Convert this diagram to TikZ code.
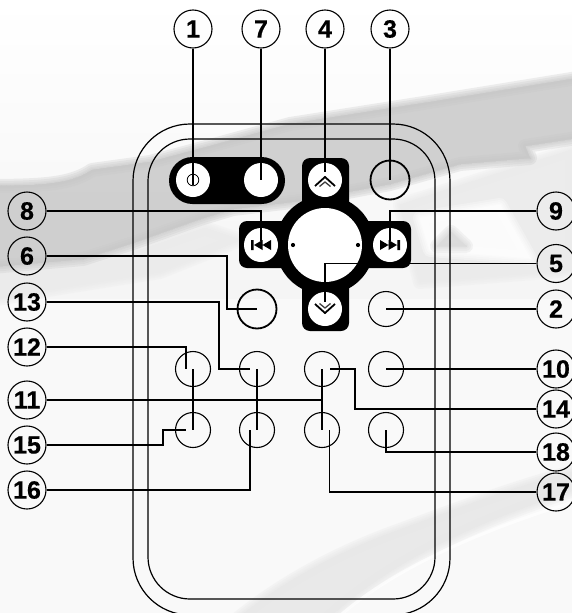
\documentclass[tikz,border=0pt]{standalone}
\usepackage{fontspec}
\setmainfont{Liberation Sans}[BoldFeatures={FakeBold=0.5}]
\newcommand\softshape[2]{\foreach \w in {14,10,6,3,0}{\path[fill=#1,draw=#1,line width=\w pt,opacity=.3,line join=round] #2;}}
\tikzset{
  lab/.style={circle,draw=black,line width=1.1pt,minimum size=38pt,inner sep=0pt,font=\fontsize{25}{25}\bfseries\selectfont},
  whitebtn/.style={circle,fill=white,minimum size=34pt,inner sep=0pt},
  thickbtn/.style={circle,draw=black,line width=1.8pt,minimum size=39pt,inner sep=0pt},
  thinbtn/.style={circle,draw=black,line width=1.1pt,minimum size=35pt,inner sep=0pt},
  lead/.style={draw=black,line width=1.1pt},
  shell/.style={draw=black,line width=1.2pt},
  glyph/.style={fill=black}
}
\begin{document}
\begin{tikzpicture}[x=1pt,y=-1pt]
\useasboundingbox (0,0) rectangle (572,613);
\clip (0,0) rectangle (572,613);
% background
\shade[top color=white,bottom color=white!96!black,middle color=white!98!black] (0,0) rectangle (572,300);
\fill[white!97.5!black] (0,299) rectangle (572,613);
\softshape{black!8}{(-20,275) -- (80,268) -- (135,252) -- (205,228) -- (240,240) -- (160,272) -- (60,288) -- (-20,302) -- cycle}
\softshape{black!8}{(400,205) -- (572,150) -- (572,270) -- (420,282) -- cycle}
\softshape{white}{(420,218) -- (500,205) -- (530,258) -- (430,250) -- cycle}
\softshape{black!14}{(437,246) -- (451,232) -- (466,246) -- cycle}
\softshape{black!21}{(-20,186) .. controls (40,186) and (70,185) .. (92,170) -- (150,162) -- (210,146) -- (290,124) -- (430,102) -- (590,76) -- (590,136) -- (525,146) -- (530,158) -- (460,164) -- (390,184) -- (300,201) -- (233,209) -- (200,219) -- (133,243) -- (83,259) -- (-20,268) -- cycle}
\softshape{black!9}{(236,620) .. controls (275,588) and (330,555) .. (400,530) .. controls (460,508) and (520,485) .. (580,470) -- (580,488) .. controls (480,520) and (390,560) .. (326,620) -- cycle}
\draw[white,line width=3pt,opacity=.7] (335,620) .. controls (390,570) and (480,530) .. (580,500);
% remote shell
\draw[shell,rounded corners=57pt] (133,124) rectangle (450,615);
\draw[shell,rounded corners=42pt] (148,139) rectangle (435,599);
% black key plates
\fill[black,rounded corners=23.5pt] (169,157) rectangle (285,204);
\fill[black,rounded corners=8pt] (302,158) rectangle (349,331);
\fill[black,rounded corners=8pt] (239,221) rectangle (411,268);
\fill[black] (325,245) circle (49.5);
% buttons
\node[whitebtn] (b1) at (193,180) {};
\node[whitebtn] (b7) at (261,180) {};
\node[whitebtn] (b4) at (325,180) {};
\node[whitebtn] (b8) at (261,245) {};
\node[whitebtn] (b9) at (390,245) {};
\node[whitebtn] (b17) at (325,309) {};
\node[circle,fill=white,minimum size=74pt,inner sep=0pt] (wheel) at (325,245) {};
\fill[black] (293,245) circle (2.1) (358,245) circle (2.1);
\node[thickbtn] (b3) at (390,180) {};
\node[thickbtn] (b6) at (257,309) {};
\node[thinbtn] (b2) at (386,309) {};
\node[thinbtn] (c12) at (193,369) {};
\node[thinbtn] (c13) at (257,369) {};
\node[thinbtn] (c14) at (322,369) {};
\node[thinbtn] (c10) at (386,369) {};
\node[thinbtn] (c15) at (193,430) {};
\node[thinbtn] (c16) at (257,430) {};
\node[thinbtn] (c17) at (322,430) {};
\node[thinbtn] (c18) at (386,430) {};
% glyphs
\draw[line width=.8pt] (193,180) circle (5.8);
\draw[line width=1.8pt,miter limit=10] (315,186) -- (325,177) -- (335,186);
\draw[black!75,line width=1.3pt] (319.5,186.5) -- (325,182) -- (330.5,186.5);
\draw[line width=1.8pt,miter limit=10] (315,304) -- (325,313) -- (335,304);
\draw[black!75,line width=1.3pt] (319.5,303.5) -- (325,308) -- (330.5,303.5);
\fill[glyph] (251,240) rectangle (253.6,250) (254,245) -- (262.5,240) -- (262.5,250) -- cycle (262.5,245) -- (271,240) -- (271,250) -- cycle;
\fill[glyph] (400,240) rectangle (397.4,250) (397,245) -- (388.5,240) -- (388.5,250) -- cycle (388.5,245) -- (380,240) -- (380,250) -- cycle;
% labels
\node[lab] (l1) at (193,29) {1};
\node[lab] (l7) at (261,29) {7};
\node[lab] (l4) at (325,29) {4};
\node[lab] (l3) at (390,29) {3};
\node[lab] (l8) at (27,211) {8};
\node[lab] (l6) at (27,256) {6};
\node[lab] (l13) at (27,302) {13};
\node[lab] (l12) at (27,347) {12};
\node[lab] (l11) at (27,400) {11};
\node[lab] (l15) at (27,445) {15};
\node[lab] (l16) at (27,490) {16};
\node[lab] (r9) at (556,211) {9};
\node[lab] (r5) at (556,263.5) {5};
\node[lab] (r2) at (556,309) {2};
\node[lab] (r10) at (556,369) {10};
\node[lab] (r14) at (556,409) {14};
\node[lab] (r18) at (556,452) {18};
\node[lab] (r17) at (556,492) {17};
% connector ends and bends
\coordinate (m6) at (227,309);
\coordinate (m13) at (219,369);
\coordinate (m14) at (355,369);
\coordinate (m15) at (163,430);
% connectors
\draw[lead] (l1.south) -- ([yshift=-5pt]b1.center);
\draw[lead] (l7.south) -- (b7.center);
\draw[lead] (l4.south) -- ([yshift=8pt]b4.center);
\draw[lead] (l3.south) -- (b3.center);
\draw[lead] (l8.east) -| ([yshift=4pt]b8.center);
\draw[lead] (r9.west) -| ([yshift=4pt]b9.center);
\draw[lead] (r5.west) -| ([yshift=7pt]b17.center);
\draw[lead] (l6.east) -| (m6) -- (b6.center);
\draw[lead] (r2.west) -- (b2.center);
\draw[lead] (l13.east) -| (m13) -- ([xshift=-7pt]c13.center);
\draw[lead] (l12.east) -| ([xshift=-7pt]c12.center);
\draw[lead] (l15.east) -| (m15) -- ([xshift=-7pt]c15.center);
\draw[lead] (l16.east) -| ([xshift=-7pt]c16.center);
\draw[lead] (l11.east) -- (l11.east -| c14);
\draw[lead] (c12.center) -- (c15.center);
\draw[lead] (c13.center) -- (c16.center);
\draw[lead] (c14.center) -- (c17.center);
\draw[lead] (r10.west) -- (c10.center);
\draw[lead] (r14.west) -| (m14) -- ([xshift=7.5pt]c14.center);
\draw[lead] (r18.west) -| (c18.center);
\draw[lead] (r17.west) -| ([xshift=7.5pt]c17.center);
\end{tikzpicture}
\end{document}
